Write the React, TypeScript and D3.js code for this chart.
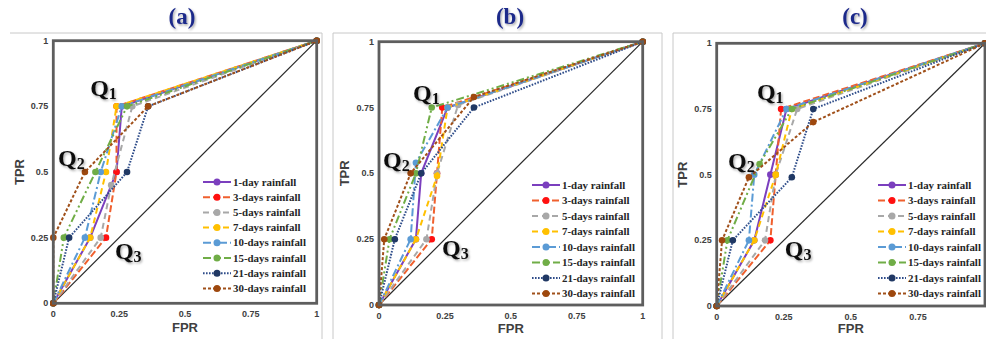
import React from "react";
import * as d3 from "d3";

// ---------- data ----------
const seriesNames = [
  "1-day rainfall",
  "3-days rainfall",
  "5-days rainfall",
  "7-days rainfall",
  "10-days rainfall",
  "15-days rainfall",
  "21-days rainfall",
  "30-days rainfall",
];

const tickValues = [0, 0.25, 0.5, 0.75, 1];
const tickLabels = ["0", "0.25", "0.5", "0.75", "1"];
const panelTitles = ["(a)", "(b)", "(c)"];

// Panel (a)
const fprA = [
  [0, 0.14, 0.24, 0.26, 1],
  [0, 0.2, 0.24, 0.24, 1],
  [0, 0.18, 0.22, 0.3, 1],
  [0, 0.14, 0.2, 0.24, 1],
  [0, 0.12, 0.18, 0.26, 1],
  [0, 0.04, 0.16, 0.28, 1],
  [0, 0.06, 0.28, 0.36, 1],
  [0, 0, 0.12, 0.36, 1],
];
const tprA = [
  [0, 0.25, 0.5, 0.75, 1],
  [0, 0.25, 0.5, 0.75, 1],
  [0, 0.25, 0.45, 0.75, 1],
  [0, 0.25, 0.5, 0.75, 1],
  [0, 0.25, 0.5, 0.75, 1],
  [0, 0.25, 0.5, 0.75, 1],
  [0, 0.25, 0.5, 0.75, 1],
  [0, 0.25, 0.5, 0.75, 1],
];

// Panel (b)
const fprB = [
  [0, 0.14, 0.16, 0.26, 1],
  [0, 0.2, 0.22, 0.24, 1],
  [0, 0.18, 0.22, 0.3, 1],
  [0, 0.14, 0.22, 0.26, 1],
  [0, 0.12, 0.14, 0.26, 1],
  [0, 0.04, 0.14, 0.2, 1],
  [0, 0.06, 0.16, 0.36, 1],
  [0, 0.02, 0.12, 0.36, 1],
];
const tprB = [
  [0, 0.25, 0.5, 0.75, 1],
  [0, 0.25, 0.5, 0.75, 1],
  [0, 0.25, 0.5, 0.76, 1],
  [0, 0.25, 0.49, 0.75, 1],
  [0, 0.25, 0.54, 0.75, 1],
  [0, 0.25, 0.5, 0.75, 1],
  [0, 0.25, 0.5, 0.75, 1],
  [0, 0.25, 0.5, 0.79, 1],
];

// Panel (c)
const fprC = [
  [0, 0.14, 0.2, 0.26, 1],
  [0, 0.2, 0.22, 0.24, 1],
  [0, 0.18, 0.22, 0.3, 1],
  [0, 0.14, 0.22, 0.28, 1],
  [0, 0.12, 0.14, 0.26, 1],
  [0, 0.04, 0.16, 0.28, 1],
  [0, 0.06, 0.28, 0.36, 1],
  [0, 0.02, 0.12, 0.36, 1],
];
const tprC = [
  [0, 0.25, 0.5, 0.75, 1],
  [0, 0.25, 0.5, 0.75, 1],
  [0, 0.25, 0.5, 0.75, 1],
  [0, 0.25, 0.5, 0.75, 1],
  [0, 0.25, 0.5, 0.75, 1],
  [0, 0.25, 0.54, 0.75, 1],
  [0, 0.25, 0.49, 0.75, 1],
  [0, 0.25, 0.49, 0.7, 1],
];

// Q annotation anchors (FPR, TPR) per panel
const qLabelsA = [[0.14, 0.79], [0.018, 0.523], [0.234, 0.169]];
const qLabelsB = [[0.129, 0.775], [0.015, 0.52], [0.239, 0.186]];
const qLabelsC = [[0.15, 0.784], [0.042, 0.52], [0.254, 0.187]];

// ---------- styles ----------
const lineColors = ["#7B3FBE", "#F0602E", "#A8A8A8", "#FFC000", "#5B9BD5", "#70AD47", "#2F4D8A", "#A0501A"];
const markerColors = ["#7B3FBE", "#FF1010", "#A8A8A8", "#FFC000", "#5B9BD5", "#70AD47", "#203864", "#9E480E"];
const dashes = ["", "7,3", "6,4", "6,4", "8,3,2,3", "8,3,2,3,2,3", "1.6,1.4", "3,2"];

const WIDTH = 986;
const HEIGHT = 339;

type Layout = {
  x0: number; x1: number; y0: number; y1: number;
  titleX: number; tprX: number; fprY: number;
  legX: number; legY: number; legStep: number;
};

const layouts: Layout[] = [
  { x0: 53.3, x1: 316.7, y0: 303.3, y1: 40.7, titleX: 182, tprX: 20, fprY: 332, legX: 203, legY: 182, legStep: 15.2 },
  { x0: 379, x1: 642.7, y0: 305, y1: 41.7, titleX: 510, tprX: 345, fprY: 333, legX: 532, legY: 185, legStep: 15.5 },
  { x0: 716.7, x1: 985, y0: 306, y1: 43.3, titleX: 855, tprX: 683, fprY: 333, legX: 878, legY: 185, legStep: 15.5 },
];

const fprs = [fprA, fprB, fprC];
const tprs = [tprA, tprB, tprC];
const qLabels = [qLabelsA, qLabelsB, qLabelsC];

function Panel({ idx }: { idx: number }) {
  const L = layouts[idx];
  const x = d3.scaleLinear().domain([0, 1]).range([L.x0, L.x1]);
  const y = d3.scaleLinear().domain([0, 1]).range([L.y0, L.y1]);
  const line = d3
    .line<[number, number]>()
    .x((d) => x(d[0]))
    .y((d) => y(d[1]));
  const fpr = fprs[idx];
  const tpr = tprs[idx];
  const sans = "'Liberation Sans', Arial, sans-serif";
  const serif = "'Liberation Serif', 'Times New Roman', serif";
  const midY = (L.y0 + L.y1) / 2;
  const midX = (L.x0 + L.x1) / 2;

  return (
    <g>
      {/* title */}
      <text
        x={L.titleX}
        y={24}
        textAnchor="middle"
        fontFamily={serif}
        fontWeight="bold"
        fontSize={23}
        fill="#1E2A8A"
        filter="url(#shadow)"
      >
        {panelTitles[idx]}
      </text>

      {/* diagonal */}
      <line x1={x(0)} y1={y(0)} x2={x(1)} y2={y(1)} stroke="#2a2a2a" strokeWidth={1.2} />

      {/* series */}
      {seriesNames.map((name, s) => {
        const pts: [number, number][] = fpr[s].map((v, i) => [v, tpr[s][i]]);
        return (
          <g key={name}>
            <path
              d={line(pts) || ""}
              fill="none"
              stroke={lineColors[s]}
              strokeWidth={2}
              strokeDasharray={dashes[s]}
            />
            {pts.map((p, i) => (
              <circle key={i} cx={x(p[0])} cy={y(p[1])} r={3.3} fill={markerColors[s]} />
            ))}
          </g>
        );
      })}

      {/* frame */}
      <rect
        x={L.x0}
        y={L.y1}
        width={L.x1 - L.x0}
        height={L.y0 - L.y1}
        fill="none"
        stroke="#5e5e5e"
        strokeWidth={2.8}
      />

      {/* ticks */}
      {tickValues.map((t, i) => (
        <g key={"t" + i}>
          <text
            x={L.x0 - 5}
            y={y(t) + 3}
            textAnchor="end"
            fontFamily={sans}
            fontWeight="bold"
            fontSize={9}
            fill="#404040"
          >
            {tickLabels[i]}
          </text>
          {x(t) + 6 <= WIDTH && (
            <text
              x={x(t)}
              y={L.y0 + 14}
              textAnchor="middle"
              fontFamily={sans}
              fontWeight="bold"
              fontSize={9}
              fill="#404040"
            >
              {tickLabels[i]}
            </text>
          )}
        </g>
      ))}

      {/* axis titles */}
      <text
        transform={`translate(${L.tprX + 4},${midY}) rotate(-90)`}
        textAnchor="middle"
        fontFamily={sans}
        fontWeight="bold"
        fontSize={13}
        fill="#404040"
      >
        TPR
      </text>
      <text
        x={midX}
        y={L.fprY}
        textAnchor="middle"
        fontFamily={sans}
        fontWeight="bold"
        fontSize={13}
        fill="#404040"
      >
        FPR
      </text>

      {/* Q labels */}
      {qLabels[idx].map((q, i) => (
        <text
          key={"q" + i}
          x={x(q[0])}
          y={y(q[1])}
          fontFamily={serif}
          fontWeight="bold"
          fontSize={24}
          fill="#111"
          filter="url(#shadow)"
        >
          Q
          <tspan fontSize={16} dy={3}>
            {i + 1}
          </tspan>
        </text>
      ))}

      {/* legend */}
      <g>
        {seriesNames.map((name, s) => {
          const ly = L.legY + s * L.legStep;
          return (
            <g key={"l" + s}>
              <line
                x1={L.legX}
                x2={L.legX + 28}
                y1={ly}
                y2={ly}
                stroke={lineColors[s]}
                strokeWidth={2}
                strokeDasharray={dashes[s]}
              />
              <circle cx={L.legX + 14} cy={ly} r={3.5} fill={markerColors[s]} />
              <text
                x={L.legX + 30}
                y={ly + 3.6}
                fontFamily={serif}
                fontWeight="bold"
                fontSize={10.9}
                fill="#262626"
              >
                {name}
              </text>
            </g>
          );
        })}
      </g>
    </g>
  );
}

export default function App() {
  return (
    <div style={{ position: "absolute", left: 0, top: 0 }}>
      <svg width={WIDTH} height={HEIGHT} style={{ display: "block", background: "#fff" }}>
        <defs>
          <filter id="shadow" x="-20%" y="-20%" width="150%" height="150%">
            <feDropShadow dx={1.2} dy={1.5} stdDeviation={1} floodColor="#000" floodOpacity={0.35} />
          </filter>
        </defs>
        {/* panel borders */}
        <g stroke="#c8c8c8" strokeWidth={1} fill="none">
          <polyline points="10,33 322,33 322,339" />
          <polyline points="333,339 333,33 662,33 662,339" />
          <polyline points="673,339 673,33 986,33" />
        </g>
        {[0, 1, 2].map((i) => (
          <Panel key={i} idx={i} />
        ))}
      </svg>
    </div>
  );
}
